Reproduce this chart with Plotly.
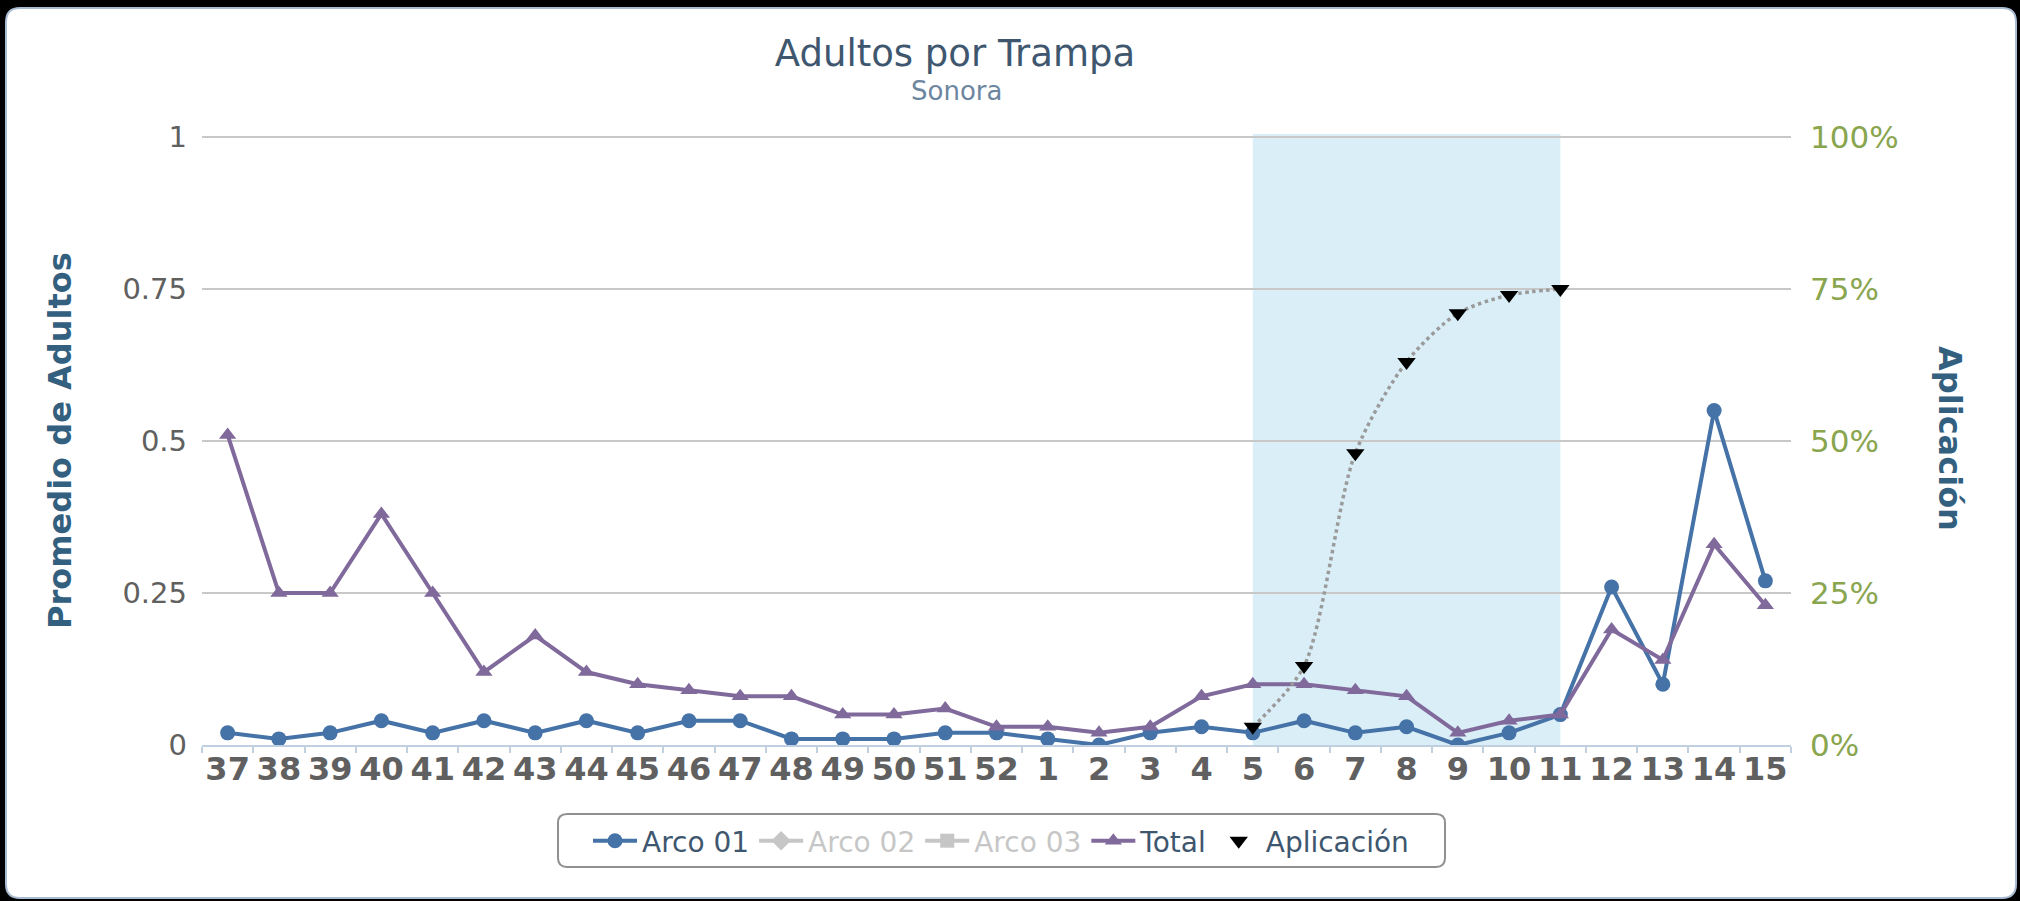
import plotly.graph_objects as go

# ---------------- data ----------------
weeks = ["37", "38", "39", "40", "41", "42", "43", "44", "45", "46", "47", "48",
         "49", "50", "51", "52", "1", "2", "3", "4", "5", "6", "7", "8", "9",
         "10", "11", "12", "13", "14", "15"]

arco01 = [0.02, 0.01, 0.02, 0.04, 0.02, 0.04, 0.02, 0.04, 0.02, 0.04, 0.04, 0.01,
          0.01, 0.01, 0.02, 0.02, 0.01, 0.00, 0.02, 0.03, 0.02, 0.04, 0.02, 0.03,
          0.00, 0.02, 0.05, 0.26, 0.10, 0.55, 0.27]

total = [0.51, 0.25, 0.25, 0.38, 0.25, 0.12, 0.18, 0.12, 0.10, 0.09, 0.08, 0.08,
         0.05, 0.05, 0.06, 0.03, 0.03, 0.02, 0.03, 0.08, 0.10, 0.10, 0.09, 0.08,
         0.02, 0.04, 0.05, 0.19, 0.14, 0.33, 0.23]

# percent (right axis)
aplicacion = [None, None, None, None, None, None, None, None, None, None, None, None,
              None, None, None, None, None, None, None, None, 3, 13, 48, 63,
              71, 74, 75, None, None, None, None]

band_from = "5"
band_to = "11"

left_ticks = [0, 0.25, 0.5, 0.75, 1]
left_labels = ["0", "0.25", "0.5", "0.75", "1"]
right_ticks = [0, 25, 50, 75, 100]

# ---------------- layout geometry (pixels) ----------------
W, H = 2020, 901
HEAD = 1.005                      # small headroom so the top gridline is drawn
L, R, B = 202, 1791, 745
T = B - (B - 137) * HEAD          # plot-area top so that value 1 lands at y=137


def px(x):
    return (x - L) / (R - L)


def py(y):
    return (B - y) / (B - T)


def rrect(x0, y0, x1, y1, r):
    return (f"M {px(x0 + r)},{py(y0)} L {px(x1 - r)},{py(y0)} "
            f"Q {px(x1)},{py(y0)} {px(x1)},{py(y0 + r)} "
            f"L {px(x1)},{py(y1 - r)} Q {px(x1)},{py(y1)} {px(x1 - r)},{py(y1)} "
            f"L {px(x0 + r)},{py(y1)} Q {px(x0)},{py(y1)} {px(x0)},{py(y1 - r)} "
            f"L {px(x0)},{py(y0 + r)} Q {px(x0)},{py(y0)} {px(x0 + r)},{py(y0)} Z")


FONT = "DejaVu Sans"
BLUE = "#4572A7"
PURPLE = "#80699B"
GREEN = "#89A54E"
AXT = "#33607f"
LBL = "#606060"
HID = "#8f8f8f"

fig = go.Figure()

fig.add_trace(go.Scatter(
    x=weeks, y=arco01, name="Arco 01", mode="lines+markers",
    line=dict(color=BLUE, width=4),
    marker=dict(symbol="circle", size=15, color=BLUE),
))
fig.add_trace(go.Scatter(
    x=[None], y=[None], name=f'<span style="color:{HID}">Arco 02</span>',
    mode="lines+markers", visible="legendonly",
    line=dict(color=HID, width=4),
    marker=dict(symbol="diamond", size=15, color=HID),
))
fig.add_trace(go.Scatter(
    x=[None], y=[None], name=f'<span style="color:{HID}">Arco 03</span>',
    mode="lines+markers", visible="legendonly",
    line=dict(color=HID, width=4),
    marker=dict(symbol="square", size=14, color=HID),
))
fig.add_trace(go.Scatter(
    x=weeks, y=total, name="Total", mode="lines+markers",
    line=dict(color=PURPLE, width=4),
    marker=dict(symbol="triangle-up", size=15, color=PURPLE),
))
fig.add_trace(go.Scatter(
    x=weeks, y=aplicacion, name="Aplicación", mode="lines+markers", yaxis="y2",
    showlegend=False,
    line=dict(color="#9a9a9a", width=3.5, dash="dot", shape="spline", smoothing=0.8),
    marker=dict(symbol="triangle-down", size=16, color="black"),
))
# legend entry (marker only) for Aplicación
fig.add_trace(go.Scatter(
    x=[None], y=[None], name="Aplicación", mode="markers", yaxis="y2",
    marker=dict(symbol="triangle-down", size=16, color="black"),
))

shapes = [
    # white rounded panel over black background
    dict(type="path", xref="paper", yref="paper", layer="below",
         path=rrect(6, 8, 2016, 898, 14),
         fillcolor="white", line=dict(color="#a9bcd2", width=2)),
    # plot band
    dict(type="rect", xref="x", yref="paper", layer="below",
         x0=weeks.index(band_from), x1=weeks.index(band_to), y0=0, y1=1,
         fillcolor="#DAEEF7", line=dict(width=0)),
    # legend box
    dict(type="path", xref="paper", yref="paper", layer="above",
         path=rrect(558, 814, 1445, 867, 9),
         fillcolor="rgba(0,0,0,0)", line=dict(color="#909090", width=2)),
]

annotations = [
    dict(text="Sonora", xref="paper", yref="paper", x=px(956), y=py(91),
         xanchor="center", yanchor="middle", showarrow=False,
         font=dict(family=FONT, size=26, color="#6D869F")),
    dict(text="<b>Promedio de Adultos</b>", xref="paper", yref="paper",
         x=px(60), y=py(441), xanchor="center", yanchor="middle",
         textangle=-90, showarrow=False,
         font=dict(family=FONT, size=32, color=AXT)),
    dict(text="<b>Aplicación</b>", xref="paper", yref="paper",
         x=px(1950), y=py(438), xanchor="center", yanchor="middle",
         textangle=90, showarrow=False,
         font=dict(family=FONT, size=32, color=AXT)),
]

fig.update_layout(
    width=W, height=H,
    margin=dict(l=L, r=W - R, t=T, b=H - B, autoexpand=False),
    paper_bgcolor="black", plot_bgcolor="white",
    font=dict(family=FONT),
    title=dict(text="Adultos por Trampa", x=955 / W, xref="container",
               xanchor="center", y=1 - 53 / H, yref="container", yanchor="middle",
               font=dict(family=FONT, size=37, color="#3E576F")),
    shapes=shapes,
    annotations=annotations,
    showlegend=True,
    legend=dict(orientation="h", x=px(1001), xanchor="center",
                y=py(841), yanchor="middle", itemwidth=44,
                bgcolor="rgba(0,0,0,0)", borderwidth=0,
                font=dict(family=FONT, size=28, color="#3E576F"),
                itemclick=False, itemdoubleclick=False),
    xaxis=dict(type="category", categoryorder="array", categoryarray=weeks,
               range=[-0.5, len(weeks) - 0.5], tickson="boundaries",
               ticks="outside", ticklen=6, tickwidth=2, tickcolor="#C0D0E0",
               showline=True, linecolor="#C0D0E0", linewidth=2,
               showgrid=False, zeroline=False, tickangle=0,
               ticklabelstandoff=-5,
               tickfont=dict(family=FONT, size=32, color=LBL, weight="bold")),
    yaxis=dict(range=[0, HEAD], tickvals=left_ticks, ticktext=left_labels,
               showgrid=True, gridcolor="#C8C8C8", gridwidth=2,
               zeroline=False, showline=False, ticks="",
               ticklabelstandoff=14,
               tickfont=dict(family=FONT, size=29, color=LBL)),
    yaxis2=dict(range=[0, 100 * HEAD], tickvals=right_ticks,
                ticktext=[f"{v}%" for v in right_ticks],
                overlaying="y", side="right",
                showgrid=False, zeroline=False, showline=False, ticks="",
                ticklabelstandoff=18,
                tickfont=dict(family=FONT, size=31, color=GREEN)),
    hovermode=False,
)

fig.write_html("out.html",
               config={"displayModeBar": False},
               post_script="document.body.style.margin='0';"
                           "document.body.style.background='black';")
